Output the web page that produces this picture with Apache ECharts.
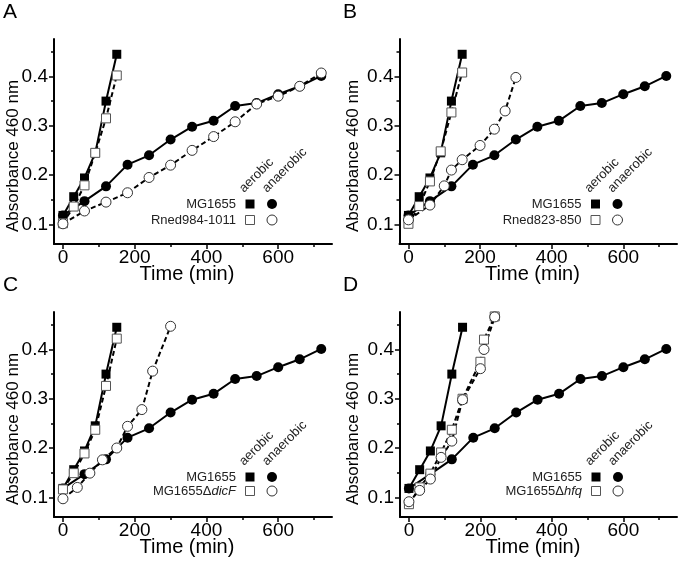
<!DOCTYPE html>
<html>
<head>
<meta charset="utf-8">
<script src="https://cdn.jsdelivr.net/npm/echarts@6/dist/echarts.min.js"></script>
<style>
html,body{margin:0;padding:0;background:#fff;}
#chart{width:680px;height:562px;}
</style>
</head>
<body>
<div id="chart"></div>
<script>
// ---- data ----
const panelLetters = ['A', 'B', 'C', 'D'];
const xTicks = [0, 200, 400, 600];
const xMinorTicks = [100, 300, 500, 700];
const yTicks = [0.1, 0.2, 0.3, 0.4];
const yMinorTicks = [0.15, 0.25, 0.35, 0.45];

// MG1655 (control) — same in all panels
const mgAerT = [0, 30, 60, 90, 120, 150];
const mgAer  = [0.118, 0.156, 0.194, 0.245, 0.350, 0.445];
const mgAnaT = [0, 60, 120, 180, 240, 300, 360, 420, 480, 540, 600, 660, 720];
const mgAna  = [0.118, 0.147, 0.177, 0.221, 0.240, 0.272, 0.298, 0.310, 0.340, 0.346, 0.364, 0.380, 0.401];

// Panel A: Rned984-1011
const aMutName = 'Rned984-1011';
const aMutAerT = [0, 30, 60, 90, 120, 150];
const aMutAer  = [0.102, 0.136, 0.179, 0.245, 0.315, 0.402];
const aMutAnaT = [0, 60, 120, 180, 240, 300, 360, 420, 480, 540, 600, 660, 720];
const aMutAna  = [0.101, 0.127, 0.145, 0.164, 0.195, 0.220, 0.250, 0.278, 0.308, 0.344, 0.360, 0.380, 0.407];

// Panel B: Rned823-850
const bMutName = 'Rned823-850';
const bMutAerT = [0, 30, 60, 90, 120, 150];
const bMutAer  = [0.101, 0.137, 0.187, 0.248, 0.327, 0.408];
const bMutAnaT = [0, 60, 100, 120, 150, 200, 240, 270, 300];
const bMutAna  = [0.109, 0.139, 0.178, 0.210, 0.231, 0.260, 0.293, 0.330, 0.398];

// Panel C: MG1655ΔdicF
const cMutName = ['MG1655Δ', 'dicF'];
const cMutAerT = [0, 30, 60, 90, 120, 150];
const cMutAer  = [0.116, 0.149, 0.189, 0.237, 0.326, 0.422];
const cMutAnaT = [0, 40, 75, 110, 150, 180, 220, 250, 300];
const cMutAna  = [0.097, 0.120, 0.149, 0.176, 0.200, 0.244, 0.278, 0.356, 0.447];

// Panel D: MG1655Δhfq
const dMutName = ['MG1655Δ', 'hfq'];
const dMutAerT = [0, 30, 60, 90, 120, 150, 200, 210, 240];
const dMutAer  = [0.086, 0.120, 0.148, 0.191, 0.237, 0.300, 0.375, 0.420, 0.467];
const dMutAnaT = [0, 30, 60, 90, 120, 150, 200, 210, 240];
const dMutAna  = [0.091, 0.114, 0.137, 0.181, 0.214, 0.298, 0.361, 0.400, 0.466];

// ---- layout ----
const FONT = 'Liberation Sans, Arial, sans-serif';
const grids = [
  {left: 54,  top: 39,  width: 278, height: 205},
  {left: 399.5, top: 39, width: 277.5, height: 205},
  {left: 54,  top: 312, width: 278, height: 205},
  {left: 400, top: 312, width: 277, height: 205}
];
const colOff = [0, 340, 0, 340];
const rowOff = [0, 0, 273, 273];
const legendRowGap = [16, 16, 14, 14];

const panels = [
  {name: aMutName, aerT: aMutAerT, aer: aMutAer, anaT: aMutAnaT, ana: aMutAna},
  {name: bMutName, aerT: bMutAerT, aer: bMutAer, anaT: bMutAnaT, ana: bMutAna},
  {name: cMutName, aerT: cMutAerT, aer: cMutAer, anaT: cMutAnaT, ana: cMutAna},
  {name: dMutName, aerT: dMutAerT, aer: dMutAer, anaT: dMutAnaT, ana: dMutAna}
];

function pairs(t, v) { return t.map((x, i) => [x, v[i]]); }

const xAxis = [], yAxis = [], series = [], graphic = [];
grids.forEach((g, i) => {
  xAxis.push({
    gridIndex: i, type: 'value', min: -25, max: 750, position: 'bottom',
    axisLine: {show: true, onZero: false, lineStyle: {color: '#000', width: 2}},
    axisTick: {show: true, customValues: xTicks, length: 5, lineStyle: {color: '#000', width: 1.5}},
    axisLabel: {customValues: xTicks, fontSize: 19, color: '#000', margin: 4, fontFamily: FONT},
    splitLine: {show: false}
  });
  xAxis.push({
    gridIndex: i, type: 'value', min: -25, max: 750, position: 'bottom', offset: 0,
    axisLine: {show: false, onZero: false},
    axisTick: {show: true, customValues: xMinorTicks, length: 3, lineStyle: {color: '#000', width: 1.5}},
    axisLabel: {show: false}, splitLine: {show: false}
  });
  yAxis.push({
    gridIndex: i, type: 'value', min: 0.06, max: 0.476, position: 'left',
    axisLine: {show: true, onZero: false, lineStyle: {color: '#000', width: 2}},
    axisTick: {show: true, customValues: yTicks, length: 5, lineStyle: {color: '#000', width: 1.5}},
    axisLabel: {customValues: yTicks, fontSize: 19, color: '#000', margin: 6, fontFamily: FONT,
      formatter: v => v.toFixed(1)},
    splitLine: {show: false}
  });
  yAxis.push({
    gridIndex: i, type: 'value', min: 0.06, max: 0.476, position: 'left', offset: 0,
    axisLine: {show: false, onZero: false},
    axisTick: {show: true, customValues: yMinorTicks, length: 3, lineStyle: {color: '#000', width: 1.5}},
    axisLabel: {show: false}, splitLine: {show: false}
  });

  const p = panels[i];
  const xi = i * 2, yi = i * 2;
  const base = {type: 'line', xAxisIndex: xi, yAxisIndex: yi, showSymbol: true, animation: false, silent: true};
  series.push(Object.assign({}, base, {
    data: pairs(mgAerT, mgAer), symbol: 'rect', symbolSize: 9,
    lineStyle: {color: '#000', width: 2}, itemStyle: {color: '#000'}
  }));
  series.push(Object.assign({}, base, {
    data: pairs(mgAnaT, mgAna), symbol: 'circle', symbolSize: 10,
    lineStyle: {color: '#000', width: 2}, itemStyle: {color: '#000'}
  }));
  series.push(Object.assign({}, base, {
    data: pairs(p.aerT, p.aer), symbol: 'rect', symbolSize: 9,
    lineStyle: {color: '#000', width: 2, type: [5, 3]},
    itemStyle: {color: '#fff', borderColor: '#555', borderWidth: 1}
  }));
  series.push(Object.assign({}, base, {
    data: pairs(p.anaT, p.ana), symbol: 'circle', symbolSize: 10,
    lineStyle: {color: '#000', width: 2, type: [5, 3]},
    itemStyle: {color: '#fff', borderColor: '#333', borderWidth: 1}
  }));

  // panel letter
  graphic.push({type: 'text', left: 3 + colOff[i], top: 2 + rowOff[i],
    style: {text: panelLetters[i], fontSize: 21, fontFamily: FONT, fill: '#000'}});
  // axis titles
  graphic.push({type: 'text', x: 13 + colOff[i], y: g.top + 117, rotation: Math.PI / 2,
    style: {text: 'Absorbance 460 nm', fontSize: 17, fontFamily: FONT, fill: '#000', align: 'center', verticalAlign: 'middle'}});
  graphic.push({type: 'text', x: g.left + 133, y: g.top + g.height + 30,
    style: {text: 'Time (min)', fontSize: 20, fontFamily: FONT, fill: '#000', align: 'center', verticalAlign: 'middle'}});

  // legend
  const lx = g.left + 182, ly1 = g.top + 165, ly2 = ly1 + legendRowGap[i];
  const sqX = g.left + 196, ciX = g.left + 218;
  graphic.push({type: 'text', x: g.left + 192, y: g.top + 156, rotation: Math.PI / 4,
    style: {text: 'aerobic', fontSize: 13, fontFamily: FONT, fill: '#222', align: 'left', verticalAlign: 'bottom'}});
  graphic.push({type: 'text', x: g.left + 215, y: g.top + 156, rotation: Math.PI / 4,
    style: {text: 'anaerobic', fontSize: 13, fontFamily: FONT, fill: '#222', align: 'left', verticalAlign: 'bottom'}});
  graphic.push({type: 'text', x: lx, y: ly1,
    style: {text: 'MG1655', fontSize: 13, fontFamily: FONT, fill: '#222', align: 'right', verticalAlign: 'middle'}});
  let nameText, rich;
  if (Array.isArray(p.name)) {
    nameText = '{n|' + p.name[0] + '}{i|' + p.name[1] + '}';
    rich = {n: {fontSize: 13, fontFamily: FONT, fill: '#222'}, i: {fontSize: 13, fontFamily: FONT, fill: '#222', fontStyle: 'italic'}};
  } else {
    nameText = p.name;
  }
  graphic.push({type: 'text', x: lx, y: ly2,
    style: Object.assign({text: nameText, fontSize: 13, fontFamily: FONT, fill: '#222', align: 'right', verticalAlign: 'middle'}, rich ? {rich: rich} : {})});
  graphic.push({type: 'rect', shape: {x: sqX - 4.5, y: ly1 - 4.5, width: 9, height: 9}, style: {fill: '#000'}});
  graphic.push({type: 'circle', shape: {cx: ciX, cy: ly1, r: 5}, style: {fill: '#000'}});
  graphic.push({type: 'rect', shape: {x: sqX - 4.5, y: ly2 - 4.5, width: 9, height: 9}, style: {fill: '#fff', stroke: '#555', lineWidth: 1}});
  graphic.push({type: 'circle', shape: {cx: ciX, cy: ly2, r: 5}, style: {fill: '#fff', stroke: '#333', lineWidth: 1}});
});

const chart = echarts.init(document.getElementById('chart'), null, {renderer: 'canvas'});
chart.setOption({
  animation: false,
  backgroundColor: '#fff',
  grid: grids.map(g => Object.assign({containLabel: false}, g)),
  xAxis: xAxis,
  yAxis: yAxis,
  series: series,
  graphic: graphic
});
</script>
</body>
</html>
